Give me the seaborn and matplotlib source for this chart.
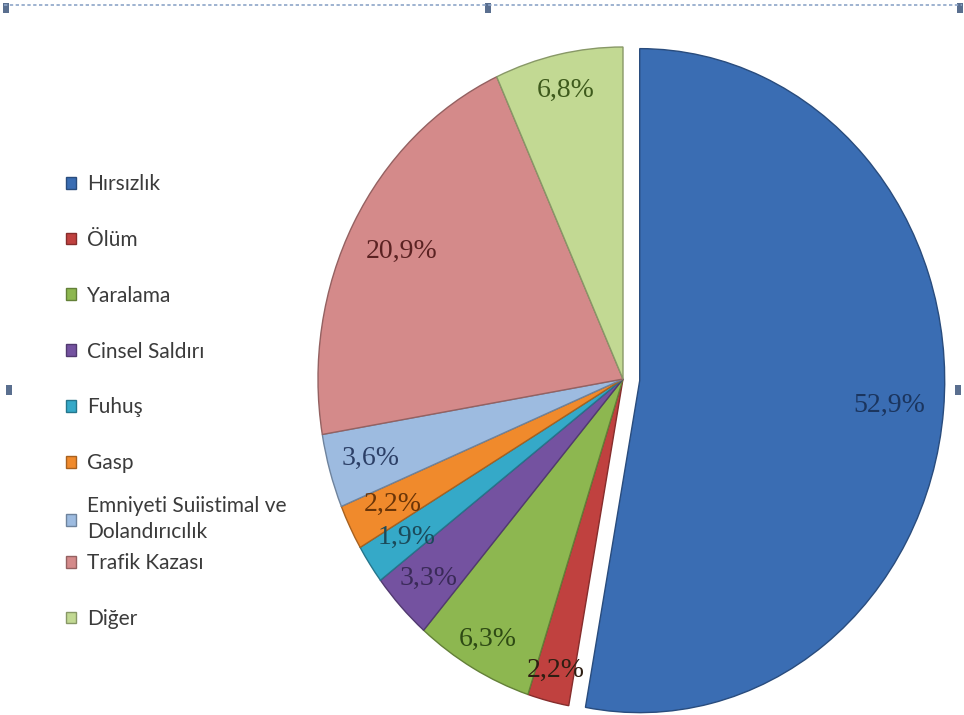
"""Crime-type shares pie chart, exploded leading slice, legend on the left."""

import matplotlib

matplotlib.use("Agg")
import matplotlib.pyplot as plt
import numpy as np
import seaborn as sns
from matplotlib.lines import Line2D
from matplotlib.patches import Rectangle

sns.set_theme(style="white")

categories = [
    "Hırsızlık",
    "Ölüm",
    "Yaralama",
    "Cinsel Saldırı",
    "Fuhuş",
    "Gasp",
    "Emniyeti Suiistimal ve\nDolandırıcılık",
    "Trafik Kazası",
    "Diğer",
]
shares = [52.9, 2.2, 6.3, 3.3, 1.9, 2.2, 3.6, 20.9, 6.8]

slice_colors = ["#3a6db3", "#c0413f", "#8db750", "#7452a0", "#35a9c8",
                "#f08a2c", "#9dbbe0", "#d48a8a", "#c2d993"]
label_colors = ["#1b355e", "#2e1e12", "#2e4a14", "#3a2a58", "#1b4a5a",
                "#6a3508", "#2c3f66", "#5a2222", "#3e5a1c"]
explode = [0.055, 0, 0, 0, 0, 0, 0, 0, 0]
label_radius = [0.82, 0.905, 0.9, 0.876, 0.855, 0.845, 0.86, 0.82, 0.89]

W, H = 964, 715
fig = plt.figure(figsize=(W / 100, H / 100), dpi=100)
fig.patch.set_facecolor("white")

# pie centre / radii in pixels (slightly taller than wide, as in the source)
cx, cy, rx, ry = 623, 379, 305, 332
lim = 1.1
ax = fig.add_axes([
    (cx - rx * lim) / W,
    1 - (cy + ry * lim) / H,
    2 * rx * lim / W,
    2 * ry * lim / H,
])

palette = sns.color_palette(slice_colors)
wedges, _ = ax.pie(
    shares,
    colors=palette,
    startangle=90,
    counterclock=False,
    explode=explode,
    wedgeprops=dict(linewidth=1.0),
)
for w, c in zip(wedges, palette):
    w.set_edgecolor(tuple(v * 0.7 for v in c))

ax.set_aspect("auto")
ax.set_xlim(-lim, lim)
ax.set_ylim(-lim, lim)
ax.axis("off")

for w, v, col, r in zip(wedges, shares, label_colors, label_radius):
    theta = np.deg2rad((w.theta1 + w.theta2) / 2)
    x0, y0 = w.center
    ax.text(
        x0 + r * np.cos(theta),
        y0 + r * np.sin(theta),
        f"{v:.1f}%".replace(".", ","),
        ha="center",
        va="center",
        fontsize=20,
        color=col,
        family=["Liberation Serif", "DejaVu Serif"],
    )

# legend in three blocks: the wrapped entry sits tighter against its neighbours
legend_kw = dict(
    loc="upper left",
    frameon=False,
    handlelength=0.5,
    handleheight=0.5,
    handletextpad=0.5,
    labelspacing=1.72,
    borderpad=0,
    borderaxespad=0,
    prop={"family": ["Lato", "DejaVu Sans"], "size": 15},
)
blocks = [(0, 6, 174), (6, 7, 496), (7, 9, 553)]
for start, stop, top in blocks:
    leg = fig.legend(wedges[start:stop], categories[start:stop],
                     bbox_to_anchor=(66 / W, 1 - top / H), **legend_kw)
    for t in leg.get_texts():
        t.set_color("#3b3b3b")
        t.set_linespacing(1.4)

# selection frame remnants from the slide
fig.add_artist(Line2D([4 / W, 962 / W], [1 - 5 / H, 1 - 5 / H],
                      color="#8ea6c8", lw=1.2, ls=(0, (2, 1.5))))
for hx, hy in [(6, 8), (488, 8), (960, 8), (9, 390), (958, 390)]:
    fig.add_artist(Rectangle(((hx - 3) / W, 1 - (hy + 5) / H), 6 / W, 10 / H,
                             color="#5a6f8f", lw=0))

fig.savefig("out.png", dpi=100, facecolor="white")
